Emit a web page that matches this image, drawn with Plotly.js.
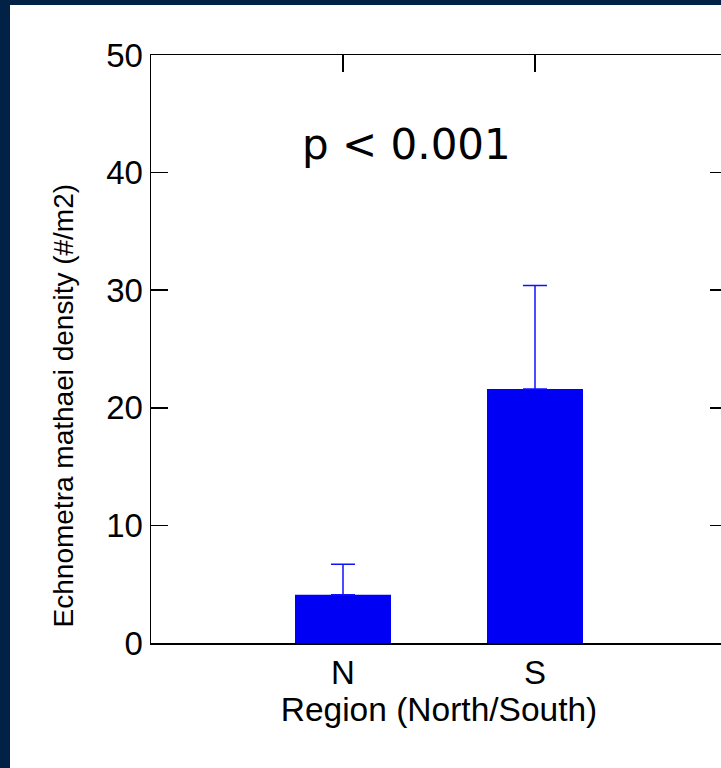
<!DOCTYPE html>
<html>
<head>
<meta charset="utf-8">
<script src="https://cdn.plot.ly/plotly-3.0.1.min.js"></script>
<style>
  html, body { margin: 0; padding: 0; width: 721px; height: 768px; overflow: hidden; background: #012146; }
  #chart { position: absolute; left: 10px; top: 5px; width: 800px; height: 800px; }
</style>
</head>
<body>
<div id="chart"></div>
<script>
const regions = ['N', 'S'];
const density = [4.1, 21.6];
const errUp = [2.6, 8.8];
const yTickVals = [0, 10, 20, 30, 40, 50];
const xTitle = 'Region (North/South)';
const yTitle = 'Echnometra mathaei density (#/m2)';
const pText = 'p < 0.001';

const trace = {
  type: 'bar',
  x: regions,
  y: density,
  width: 0.5,
  marker: { color: '#0000f5', line: { width: 0 } },
  error_y: {
    type: 'data',
    symmetric: false,
    array: errUp,
    arrayminus: [0, 0],
    color: '#1010ff',
    thickness: 1.5,
    width: 12
  },
  hoverinfo: 'none'
};

const layout = {
  width: 800,
  height: 800,
  paper_bgcolor: '#ffffff',
  plot_bgcolor: '#ffffff',
  showlegend: false,
  margin: { l: 141, r: 83, t: 50, b: 162, pad: 0 },
  font: { family: 'Liberation Sans, Arial, sans-serif', color: '#000000' },
  xaxis: {
    type: 'category',
    range: [-1, 2],
    showline: true,
    linecolor: '#000000',
    linewidth: 1.5,
    mirror: 'ticks',
    ticks: 'inside',
    ticklen: 17,
    tickwidth: 1.5,
    tickcolor: '#000000',
    showgrid: false,
    zeroline: false,
    layer: 'below traces',
    tickfont: { size: 33, family: 'Liberation Sans, Arial, sans-serif' },
    title: { text: xTitle, font: { size: 33.5, family: 'Liberation Sans, Arial, sans-serif' }, standoff: 3 }
  },
  yaxis: {
    range: [0, 50],
    tickvals: yTickVals,
    showline: true,
    linecolor: '#000000',
    linewidth: 1.5,
    mirror: 'ticks',
    ticks: 'inside',
    ticklen: 17,
    tickwidth: 1.5,
    tickcolor: '#000000',
    showgrid: false,
    zeroline: false,
    layer: 'below traces',
    tickfont: { size: 33, family: 'Liberation Sans, Arial, sans-serif' }
  },
  annotations: [
    {
      text: yTitle,
      xref: 'paper', yref: 'paper',
      x: -0.1528, y: 0.404,
      xanchor: 'center', yanchor: 'middle',
      textangle: -90,
      showarrow: false,
      font: { size: 28, family: 'Liberation Sans, Arial, sans-serif', color: '#000000' }
    },
    {
      text: pText,
      xref: 'paper', yref: 'paper',
      x: 0.444, y: 0.847,
      xanchor: 'center', yanchor: 'middle',
      showarrow: false,
      font: { size: 42, family: 'DejaVu Sans, Noto Sans, sans-serif', color: '#000000' }
    }
  ]
};

Plotly.newPlot('chart', [trace], layout, { staticPlot: true, displayModeBar: false });
</script>
</body>
</html>
